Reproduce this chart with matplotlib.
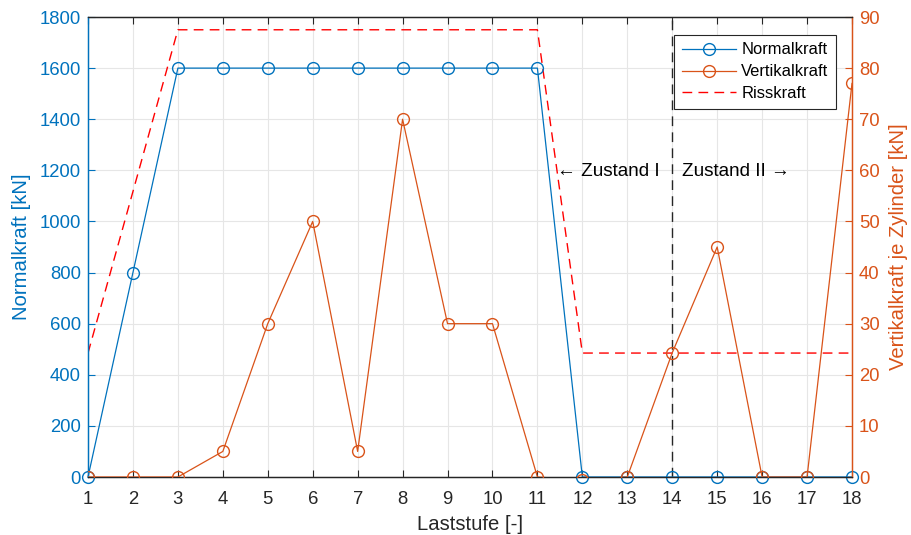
import matplotlib
matplotlib.use("Agg")
import matplotlib.pyplot as plt
import numpy as np

plt.rcParams['font.family'] = ['Liberation Sans', 'DejaVu Sans']

laststufe = list(range(1, 19))
normalkraft = [0, 800, 1600, 1600, 1600, 1600, 1600, 1600, 1600, 1600, 1600, 0, 0, 0, 0, 0, 0, 0]
vertikalkraft = [0, 0, 0, 5, 30, 50, 5, 70, 30, 30, 0, -0.6, 0, 24.3, 45, 0, 0, 77]
risskraft = [485, 1117, 1750, 1750, 1750, 1750, 1750, 1750, 1750, 1750, 1750, 485, 485, 485, 485, 485, 485, 485]
grenze_x = 14

blue = '#0072BD'
orange = '#D95319'
red = '#FF0000'

fig = plt.figure(figsize=(9.11, 5.35), dpi=100)
ax = fig.add_axes([88/911, 1-477/535, (852-88)/911, (477-17)/535])
ax2 = ax.twinx()

ax.set_xlim(1, 18)
ax.set_ylim(0, 1800)
ax2.set_ylim(0, 90)

ax.grid(True, color='#e6e6e6', linewidth=0.8, zorder=0)
ax.set_axisbelow(True)

l1, = ax.plot(laststufe, normalkraft, color=blue, lw=0.9, marker='o', ms=8.5,
              mfc='none', mec=blue, mew=1.0, label='Normalkraft', zorder=3, clip_on=False)
l3, = ax.plot(laststufe, risskraft, color=red, lw=1.0, dashes=(7, 4.5), label='Risskraft', zorder=2)
ax.axvline(grenze_x, color='#262626', lw=1.0, dashes=(7, 4.5), zorder=2)
l2, = ax2.plot(laststufe, vertikalkraft, color=orange, lw=0.9, marker='o', ms=8.5,
               mfc='none', mec=orange, mew=1.0, label='Vertikalkraft', zorder=3)

ax.set_xticks(laststufe)
ax.set_yticks(np.arange(0, 1801, 200))
ax2.set_yticks(np.arange(0, 91, 10))

ax.tick_params(axis='x', direction='in', length=5, labelsize=13.3, colors='#262626', top=True, pad=10)
ax.tick_params(axis='y', direction='in', length=5, labelsize=13.3, colors=blue, labelcolor=blue, pad=5)
ax2.tick_params(axis='y', direction='in', length=5, labelsize=13.3, colors=orange, labelcolor=orange, pad=5)

for a in (ax, ax2):
    a.spines['top'].set_color('#262626')
    a.spines['bottom'].set_color('#262626')
    a.spines['left'].set_color(blue)
    a.spines['right'].set_color(orange)
    for s in a.spines.values():
        s.set_linewidth(0.9)

ax.set_xlabel('Laststufe [-]', fontsize=14.6, color='#262626', labelpad=5)
ax.set_ylabel('Normalkraft [kN]', fontsize=14.6, color=blue, labelpad=6)
ax2.set_ylabel('Vertikalkraft je Zylinder [kN]', fontsize=14.6, color=orange, labelpad=7)

ax.text(grenze_x - 0.27, 1195, '\u2190 Zustand I', ha='right', va='center', fontsize=13.6, color='black')
ax.text(grenze_x + 0.22, 1195, 'Zustand II \u2192', ha='left', va='center', fontsize=13.6, color='black')

leg = ax2.legend(handles=[l1, l2, l3], loc='upper right', bbox_to_anchor=(0.979, 0.961),
                 fontsize=11.9, frameon=True, fancybox=False, edgecolor='#262626',
                 framealpha=1, handlelength=3.3, borderpad=0.45, labelspacing=0.42,
                 handletextpad=0.3, borderaxespad=0)
leg.get_frame().set_linewidth(0.8)

fig.savefig('out.png', dpi=100)
